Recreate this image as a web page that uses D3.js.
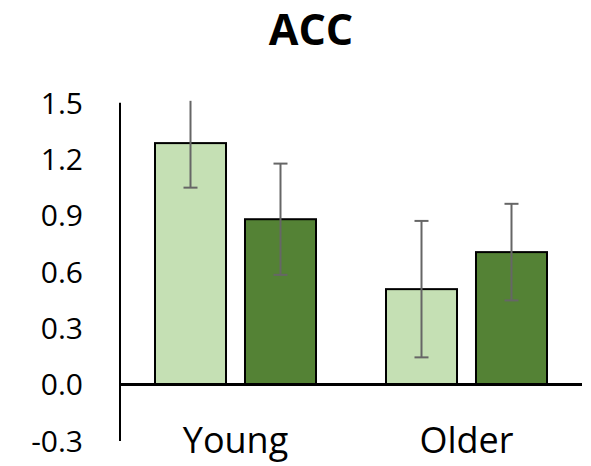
<!DOCTYPE html>
<meta charset="utf-8">
<style>
  html, body { margin: 0; padding: 0; background: #fff; }
  svg { display: block; }
  text { font-family: "Open Sans", "Noto Sans", sans-serif; fill: #000; }
</style>
<svg id="chart" width="591" height="466"></svg>
<script src="https://cdn.jsdelivr.net/npm/d3@7/dist/d3.min.js"></script>
<script>
  // data
  const groups = ["Young", "Older"];
  const series = ["light", "dark"];
  const means = [[1.285, 0.88], [0.508, 0.705]];
  const errs = [[0.237, 0.296], [0.363, 0.257]];
  const yTicks = [-0.3, 0.0, 0.3, 0.6, 0.9, 1.2, 1.5];
  const colors = ["#c5e0b4", "#548235"];

  const svg = d3.select("#chart");

  const plotLeft = 120, plotRight = 582, plotTop = 102.7, plotBottom = 441;

  let y = d3.scaleLinear().domain([-0.3, 1.5]).range([plotBottom, plotTop]);
  let x = d3.scaleBand().domain(groups).range([plotLeft, plotRight]);
  let xs = d3.scaleBand().domain(series).range([35, 231 - 35]).paddingInner(0.211);

  // title
  svg.append("text")
    .attr("x", 311).attr("y", 45)
    .attr("text-anchor", "middle")
    .style("font-size", "43px").style("font-weight", "bold")
    .text("ACC");

  // y tick labels (plain hyphen for negatives, like the original)
  let fmt = d3.format(".1f");
  svg.selectAll(".ytick").data(yTicks).enter().append("text")
    .attr("class", "ytick")
    .attr("x", 83).attr("y", d => y(d))
    .attr("dy", "0.36em")
    .attr("text-anchor", "end")
    .style("font-size", "30px")
    .text(d => fmt(d).replace("\u2212", "-"));

  // y axis line
  svg.append("line")
    .attr("x1", plotLeft).attr("x2", plotLeft)
    .attr("y1", plotTop).attr("y2", plotBottom)
    .attr("stroke", "#000").attr("stroke-width", 2);

  // bars
  let flat = [];
  groups.forEach((g, i) => series.forEach((s, j) => {
    flat.push({ g: g, s: s, v: means[i][j], e: errs[i][j], c: colors[j] });
  }));

  svg.selectAll(".bar").data(flat).enter().append("rect")
    .attr("class", "bar")
    .attr("x", d => x(d.g) + xs(d.s))
    .attr("width", xs.bandwidth())
    .attr("y", d => y(d.v))
    .attr("height", d => y(0) - y(d.v))
    .attr("fill", d => d.c)
    .attr("stroke", "#000").attr("stroke-width", 2);

  // zero line
  svg.append("line")
    .attr("x1", plotLeft).attr("x2", plotRight)
    .attr("y1", y(0)).attr("y2", y(0))
    .attr("stroke", "#000").attr("stroke-width", 3);

  // error bars
  let eb = svg.selectAll(".err").data(flat).enter().append("g").attr("class", "err")
    .attr("stroke", "#666").attr("stroke-width", 2);
  let cx = d => x(d.g) + xs(d.s) + xs.bandwidth() / 2;
  eb.append("line")
    .attr("x1", cx).attr("x2", cx)
    .attr("y1", d => y(Math.min(d.v + d.e, 1.51))).attr("y2", d => y(d.v - d.e));
  eb.filter(d => d.v + d.e <= 1.5).append("line")
    .attr("x1", d => cx(d) - 7).attr("x2", d => cx(d) + 7)
    .attr("y1", d => y(d.v + d.e)).attr("y2", d => y(d.v + d.e));
  eb.append("line")
    .attr("x1", d => cx(d) - 7).attr("x2", d => cx(d) + 7)
    .attr("y1", d => y(d.v - d.e)).attr("y2", d => y(d.v - d.e));

  // category labels
  svg.selectAll(".xlab").data(groups).enter().append("text")
    .attr("class", "xlab")
    .attr("x", d => x(d) + x.bandwidth() / 2)
    .attr("y", 453)
    .attr("text-anchor", "middle")
    .style("font-size", "36px")
    .text(d => d);
</script>
